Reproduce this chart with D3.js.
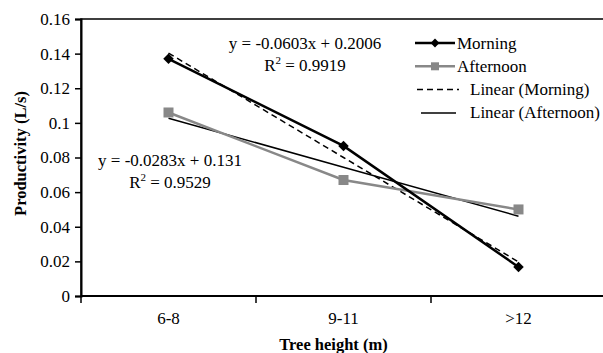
<!DOCTYPE html>
<html>
<head>
<meta charset="utf-8">
<script src="https://cdn.jsdelivr.net/npm/d3@7"></script>
<style>
  body { margin: 0; background: #fff; }
  svg { display: block; font-family: "Liberation Serif", "Times New Roman", serif; }
</style>
</head>
<body>
<div id="chart"></div>
<script>
const categories = ["6-8", "9-11", ">12"];
const morning = [0.137, 0.0867, 0.0168];
const afternoon = [0.106, 0.067, 0.050];
const yTicks = [0, 0.02, 0.04, 0.06, 0.08, 0.1, 0.12, 0.14, 0.16];
// trendline coefficients as printed on the chart [slope, intercept]
const trendMorning = [-0.0603, 0.2006];
const trendAfternoon = [-0.0283, 0.131];
const eqMorning = ["y = -0.0603x + 0.2006", "0.9919"];
const eqAfternoon = ["y = -0.0283x + 0.131", "0.9529"];

const width = 603, height = 353;
const margin = { top: 19, right: -3, bottom: 57, left: 81 };
const w = width - margin.left - margin.right;
const h = height - margin.top - margin.bottom;
const fs = 17;

const svg = d3.select("#chart").append("svg")
  .attr("width", width).attr("height", height);

const g = svg.append("g").attr("transform", `translate(${margin.left},${margin.top})`);

const x = d3.scaleBand().domain(categories).range([0, w]).padding(0);
const y = d3.scaleLinear().domain([0, 0.16]).range([h, 0]);
const cx = d => x(d) + x.bandwidth() / 2;

// plot border (top + right)
g.append("rect").attr("x", 0).attr("y", 0).attr("width", w).attr("height", h)
  .attr("fill", "none").attr("stroke", "#000").attr("stroke-width", 1.5);

// y axis
const yAxis = g.append("g").call(d3.axisLeft(y).tickValues(yTicks).tickSize(6)
  .tickFormat(d => d === 0 ? "0" : String(+d.toFixed(2))));
yAxis.select(".domain").attr("stroke-width", 2);
yAxis.selectAll(".tick line").attr("stroke-width", 1.5);
yAxis.selectAll("text").attr("font-size", fs).attr("font-family", "Liberation Serif").attr("fill", "#000").attr("x", -11);

// x axis: ticks between categories
const xAxis = g.append("g").attr("transform", `translate(0,${h})`);
xAxis.append("line").attr("x1", 0).attr("x2", w).attr("stroke", "#000").attr("stroke-width", 2);
const bounds = categories.map(c => x(c)).concat([x(categories[categories.length - 1]) + x.bandwidth()]);
xAxis.selectAll("line.tk").data(bounds).join("line").attr("class", "tk")
  .attr("x1", d => d).attr("x2", d => d).attr("y1", 0).attr("y2", 7)
  .attr("stroke", "#000").attr("stroke-width", 1.5);
xAxis.selectAll("text").data(categories).join("text")
  .attr("x", d => cx(d)).attr("y", 28).attr("text-anchor", "middle")
  .attr("font-size", fs).text(d => d);

// axis titles
svg.append("text").attr("x", margin.left + w / 2 - 10).attr("y", 350)
  .attr("text-anchor", "middle").attr("font-size", 16.5).attr("font-weight", "bold")
  .text("Tree height (m)");
svg.append("text").attr("transform", `translate(26,${margin.top + h / 2 - 4}) rotate(-90)`)
  .attr("text-anchor", "middle").attr("font-size", 16.5).attr("font-weight", "bold")
  .text("Productivity (L/s)");

const line = d3.line().x((d, i) => cx(categories[i])).y(d => y(d));

// trend lines
const trendVals = t => categories.map((c, i) => t[0] * (i + 1) + t[1]);
g.append("path").datum(trendVals(trendMorning)).attr("d", line)
  .attr("fill", "none").attr("stroke", "#000").attr("stroke-width", 1.5).attr("stroke-dasharray", "6,4");
g.append("path").datum(trendVals(trendAfternoon)).attr("d", line)
  .attr("fill", "none").attr("stroke", "#000").attr("stroke-width", 1.5);

// series
g.append("path").datum(afternoon).attr("d", line)
  .attr("fill", "none").attr("stroke", "#888").attr("stroke-width", 2.5);
g.selectAll("rect.sq").data(afternoon).join("rect").attr("class", "sq")
  .attr("x", (d, i) => cx(categories[i]) - 5).attr("y", d => y(d) - 5)
  .attr("width", 10).attr("height", 10).attr("fill", "#888");

g.append("path").datum(morning).attr("d", line)
  .attr("fill", "none").attr("stroke", "#000").attr("stroke-width", 2.5);
const diamond = d3.symbol().type(d3.symbolDiamond2).size(70);
g.selectAll("path.dm").data(morning).join("path").attr("class", "dm")
  .attr("d", diamond).attr("transform", (d, i) => `translate(${cx(categories[i])},${y(d)})`)
  .attr("fill", "#000");

// equations
function eq(lines, xc, y0) {
  const t = svg.append("g").attr("font-size", fs).attr("text-anchor", "middle");
  t.append("text").attr("x", xc).attr("y", y0).text(lines[0]);
  const r = t.append("text").attr("x", xc).attr("y", y0 + 22);
  r.append("tspan").text("R");
  r.append("tspan").attr("font-size", 11).attr("dy", -7).text("2");
  r.append("tspan").attr("dy", 7).text(" = " + lines[1]);
}
eq(eqMorning, 305, 49);
eq(eqAfternoon, 170, 166);

// legend
const legend = svg.append("g").attr("font-size", fs);
const items = [
  { label: "Morning", color: "#000", w: 2.5, dash: null, mark: "d", x1: 415, x2: 455, tx: 457 },
  { label: "Afternoon", color: "#888", w: 2.5, dash: null, mark: "s", x1: 415, x2: 455, tx: 457 },
  { label: "Linear (Morning)", color: "#000", w: 1.5, dash: "6,4", mark: null, x1: 417, x2: 459, tx: 470 },
  { label: "Linear (Afternoon)", color: "#000", w: 1.5, dash: null, mark: null, x1: 421, x2: 456, tx: 470 }
];
items.forEach((it, i) => {
  const yy = 43 + i * 23.3;
  legend.append("line").attr("x1", it.x1).attr("x2", it.x2).attr("y1", yy).attr("y2", yy)
    .attr("stroke", it.color).attr("stroke-width", it.w).attr("stroke-dasharray", it.dash);
  const mx = (it.x1 + it.x2) / 2;
  if (it.mark === "d") legend.append("path").attr("d", d3.symbol().type(d3.symbolDiamond2).size(50))
    .attr("transform", `translate(${mx},${yy})`).attr("fill", "#000");
  if (it.mark === "s") legend.append("rect").attr("x", mx - 4).attr("y", yy - 4)
    .attr("width", 8).attr("height", 8).attr("fill", "#888");
  legend.append("text").attr("x", it.tx).attr("y", yy + 5.5).text(it.label);
});
</script>
</body>
</html>
